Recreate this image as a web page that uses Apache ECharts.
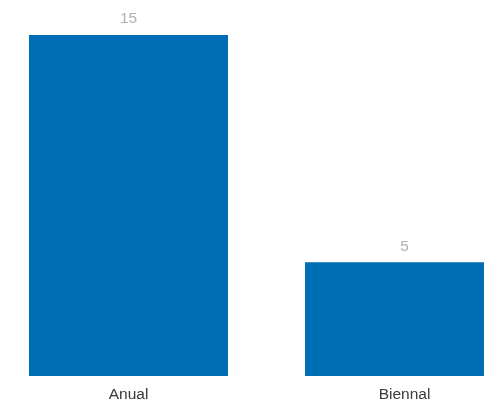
<!DOCTYPE html>
<html>
<head>
<meta charset="utf-8">
<script src="https://cdn.jsdelivr.net/npm/echarts@6/dist/echarts.min.js"></script>
<style>
  html, body { margin: 0; padding: 0; background: #fff; }
  #chart { width: 484px; height: 405px; }
</style>
</head>
<body>
<div id="chart"></div>
<script>
const categories = ['Anual', 'Biennal'];
const values = [15, 5];

const chart = echarts.init(document.getElementById('chart'), null, { renderer: 'canvas' });
chart.setOption({
  animation: false,
  grid: { left: -9.5, right: -58.5, top: 35, bottom: 29, containLabel: false, outerBoundsMode: 'none' },
  xAxis: {
    type: 'category',
    data: categories,
    axisLine: { show: false },
    axisTick: { show: false },
    axisLabel: { color: '#3a3a3a', fontSize: 15.5, margin: 11, fontFamily: 'Liberation Sans, Arial, sans-serif' }
  },
  yAxis: {
    type: 'value',
    min: 0,
    max: 15,
    show: false
  },
  series: [{
    type: 'bar',
    data: values,
    barWidth: 199,
    itemStyle: { color: '#006eb7' },
    label: {
      show: true,
      position: 'top',
      distance: 8,
      color: '#b0b0b0',
      fontSize: 15.5,
      fontFamily: 'Liberation Sans, Arial, sans-serif'
    }
  }]
});
</script>
</body>
</html>
